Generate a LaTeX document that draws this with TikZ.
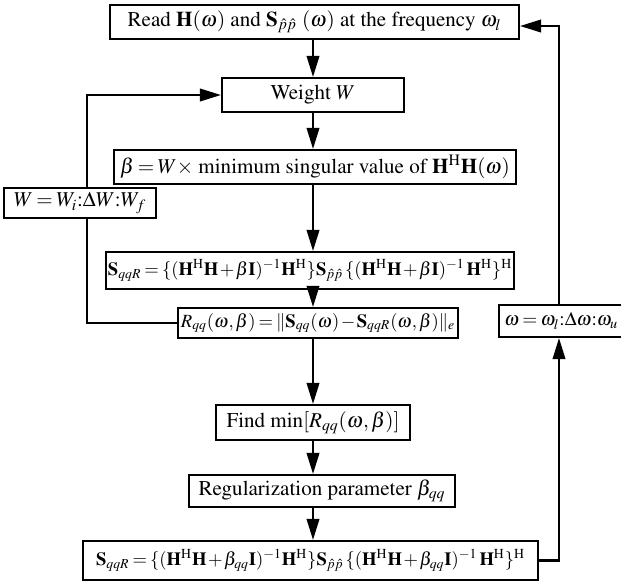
\documentclass[tikz,border=0pt]{standalone}
\usepackage[T1]{fontenc}
\usepackage{mathptmx}
\usetikzlibrary{arrows.meta,positioning,calc}
\providecommand{\varDelta}{\Delta}
\newcommand{\tightmath}{\thickmuskip=3mu\relax\medmuskip=1.5mu\relax}
\tikzset{
  flow box/.style={draw,line width=1.2pt,inner sep=0pt,align=center,
    font=\fontsize{12}{14}\selectfont,execute at begin node=\tightmath},
  formula box/.style={flow box,font=\fontsize{10.6}{13}\selectfont},
  flow arrow/.style={-{Triangle[length=4.2mm,width=2.5mm]},line width=1.2pt},
  flow line/.style={line width=1.2pt}
}
\newcommand{\bH}{\mathbf{H}}
\newcommand{\bS}{\mathbf{S}}
\newcommand{\hh}{^{\mathrm{H}}}

\begin{document}
\begin{tikzpicture}[x=0.02cm,y=-0.02cm]
  \useasboundingbox (0,0) rectangle (621,583);
  \coordinate (spine) at (313,0);
  \coordinate (rail) at (559,0);
  \node[flow box,minimum width=8.18cm,minimum height=0.68cm] (read) at (314.5,22) {Read $\bH(\omega)$ and $\bS_{\hat{p}\hat{p}}$\ $(\omega)$ at the frequency $\omega_l$};
  \node[flow box,minimum width=3.64cm,minimum height=0.68cm] (weight) at (313,95) {Weight $W$};
  \node[flow box,minimum width=8.04cm,minimum height=0.68cm] (beta) at (315,167) {$\beta = W \times$ minimum singular value of $\bH\hh\bH(\omega)$};
  \node[flow box,minimum width=3.04cm,minimum height=0.6cm] (wrange) at (80,203) {$W = W_i{:}\varDelta W{:}W_f$};
  \node[formula box,minimum width=8.16cm,minimum height=0.74cm] (sqqr) at (310,270.5) {$\bS_{qqR} = \{(\bH\hh\bH + \beta\mathbf{I})^{-1}\bH\hh\}\bS_{\hat{p}\hat{p}}\,\{(\bH\hh\bH + \beta\mathbf{I})^{-1}\,\bH\hh\}\hh$};
  \node[formula box,minimum width=5.6cm,minimum height=0.6cm] (resid) at (318,323) {$R_{qq}(\omega,\beta) = \|\bS_{qq}(\omega) - \bS_{qqR}(\omega,\beta)\|_e$};
  \node[flow box,minimum width=3.88cm,minimum height=0.7cm] (findmin) at (313,422.5) {Find $\min[R_{qq}(\omega,\beta)]$};
  \node[flow box,minimum width=5.32cm,minimum height=0.64cm] (regpar) at (322,491) {Regularization parameter $\beta_{qq}$};
  \node[formula box,minimum width=9.1cm,minimum height=0.78cm] (result) at (310.5,560.5) {$\bS_{qqR} = \{(\bH\hh\bH + \beta_{qq}\mathbf{I})^{-1}\bH\hh\}\bS_{\hat{p}\hat{p}}\,\{(\bH\hh\bH + \beta_{qq}\mathbf{I})^{-1}\,\bH\hh\}\hh$};
  \node[flow box,font=\fontsize{11}{13}\selectfont,minimum height=0.64cm,anchor=west,inner xsep=3pt,text width=2.8cm,align=left] (wsweep) at (498,321) {$\omega = \omega_l{:}\varDelta\omega{:}\omega_u$};
  \draw[flow arrow] (read.south -| spine) -- (weight.north -| spine);
  \draw[flow arrow] (weight.south -| spine) -- (beta.north -| spine);
  \draw[flow arrow] (beta.south -| spine) -- (sqqr.north -| spine);
  \draw[flow arrow] (sqqr.south -| spine) -- (resid.north -| spine);
  \draw[flow arrow] (resid.south -| spine) -- (findmin.north -| spine);
  \draw[flow arrow] (findmin.south -| spine) -- (regpar.north -| spine);
  \draw[flow arrow] (regpar.south -| spine) -- (result.north -| spine);
  \draw[flow arrow] ([xshift=0.14cm]wrange.north) |- (weight.west);
  \draw[flow line] ([xshift=0.14cm]wrange.south) |- (resid.west);
  \draw[flow arrow] (result.east) -| (wsweep.south -| rail);
  \draw[flow arrow] (wsweep.north -| rail) |- ([yshift=-0.08cm]read.east);
\end{tikzpicture}
\end{document}
